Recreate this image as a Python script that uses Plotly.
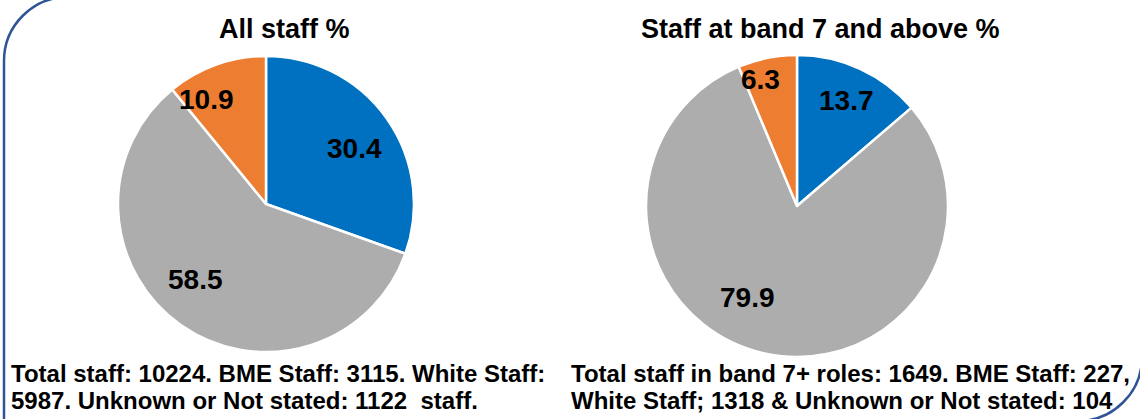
import math
import plotly.graph_objects as go

categories = ["BME", "White", "Unknown or Not stated"]
all_staff_pct = [30.4, 58.5, 10.9]
band7_pct = [13.7, 79.9, 6.3]
colors = ["#0070C0", "#ADADAD", "#ED7D31"]

titles = ["All staff %", "Staff at band 7 and above %"]
notes_left = ["Total staff: 10224. BME Staff: 3115. White Staff:",
              "5987. Unknown or Not stated: 1122  staff."]
notes_right = ["Total staff in band 7+ roles: 1649. BME Staff: 227,",
               "White Staff; 1318 & Unknown or Not stated: 104"]

W, H = 1140, 419
FONT = "Liberation Sans, Arial, sans-serif"

# pie geometry (pixels); label placement: radius fraction and angle nudge (deg) per slice
pies = [
    dict(vals=all_staff_pct, cx=266, cy=204, r=148,
         lab_r=[0.71, 0.70, 0.81], lab_da=[3, 8, -10]),
    dict(vals=band7_pct, cx=797, cy=206, r=151,
         lab_r=[0.775, 0.69, 0.87], lab_da=[0.5, 15, -5]),
]

def dom(cx, cy, r):
    return dict(x=[(cx - r) / W, (cx + r) / W], y=[1 - (cy + r) / H, 1 - (cy - r) / H])

fig = go.Figure()
ann = []
for p in pies:
    fig.add_trace(go.Pie(
        labels=categories, values=p["vals"], domain=dom(p["cx"], p["cy"], p["r"]),
        sort=False, direction="clockwise", rotation=0,
        marker=dict(colors=colors, line=dict(color="white", width=2.5)),
        textinfo="none", hoverinfo="label+value", showlegend=False,
    ))
    # data labels placed around each slice's mid-angle
    total = sum(p["vals"])
    cum = 0.0
    for v, fr, da in zip(p["vals"], p["lab_r"], p["lab_da"]):
        mid = (cum + v / 2) / total * 2 * math.pi + math.radians(da)
        cum += v
        px = p["cx"] + fr * p["r"] * math.sin(mid)
        py = p["cy"] - fr * p["r"] * math.cos(mid)
        ann.append(dict(x=px / W, y=1 - py / H, text=f"{v:.1f}", xref="paper", yref="paper",
                        showarrow=False, xanchor="center", yanchor="middle",
                        font=dict(family=FONT, size=28, color="black", weight="bold")))

for t, x in zip(titles, [284, 820]):
    ann.append(dict(x=x / W, y=1 - 29 / H, text=t, xref="paper", yref="paper",
                    showarrow=False, xanchor="center", yanchor="middle",
                    font=dict(family=FONT, size=27, color="black", weight="bold")))
for notes, x0 in [(notes_left, 9), (notes_right, 569)]:
    for i, t in enumerate(notes):
        ann.append(dict(x=x0 / W, y=1 - (373 + 27 * i) / H, text=t, xref="paper", yref="paper",
                        showarrow=False, xanchor="left", yanchor="middle",
                        font=dict(family=FONT, size=24, color="black", weight="bold")))

# frame: rectangle with rounded top-left and bottom-right corners (pixel coords -> paper)
def P(x, y):
    return f"{x / W:.5f},{1 - y / H:.5f}"
L, T, R, B, rad = 4, -3, 1142, 421, 64
k = 0.5523 * rad
path = (f"M {P(L, B + 5)} L {P(L, T + rad)} C {P(L, T + rad - k)} {P(L + rad - k, T)} {P(L + rad, T)} "
        f"L {P(R, T)} L {P(R, B - rad)} C {P(R, B - rad + k)} {P(R - rad + k, B)} {P(R - rad, B)} "
        f"L {P(L, B)}")

fig.update_layout(
    width=W, height=H, margin=dict(l=0, r=0, t=0, b=0),
    paper_bgcolor="white", plot_bgcolor="white",
    annotations=ann,
    shapes=[dict(type="path", path=path, xref="paper", yref="paper",
                 line=dict(color="#2F5597", width=2.5), layer="below")],
)
fig.write_html("out.html", config={"displayModeBar": False},
               post_script="document.body.style.margin='0';")
